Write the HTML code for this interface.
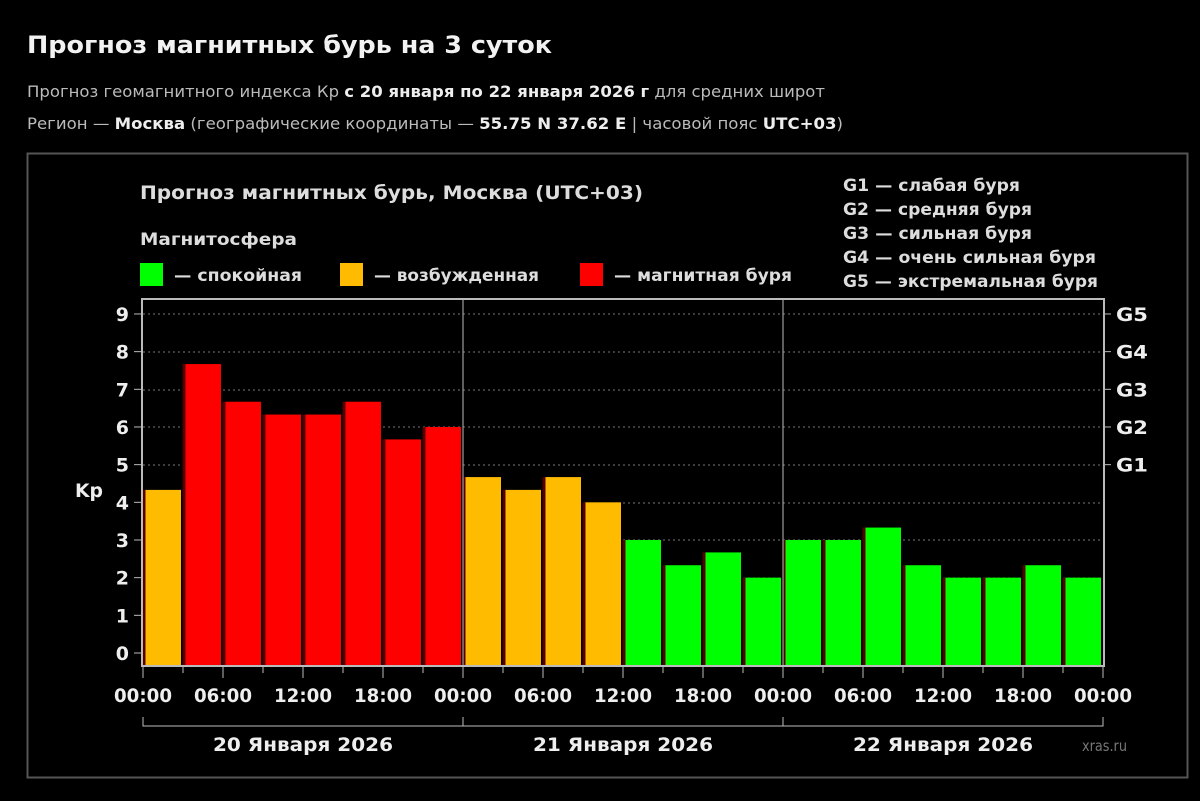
<!DOCTYPE html>
<html><head><meta charset="utf-8"><style>
body{margin:0;background:#000;width:1200px;height:797px;overflow:hidden;font-family:"DejaVu Sans",sans-serif;color:#ddd}
</style></head><body>
<svg width="1200" height="797" xmlns="http://www.w3.org/2000/svg" font-family="DejaVu Sans, Liberation Sans, sans-serif">
<rect width="1200" height="797" fill="#000"/>
<text x="27" y="53" font-size="24" font-weight="bold" fill="#f2f2f2" textLength="525" lengthAdjust="spacingAndGlyphs">Прогноз магнитных бурь на 3 суток</text>
<text x="27" y="97" font-size="16" fill="#bbb" textLength="798" lengthAdjust="spacingAndGlyphs">Прогноз геомагнитного индекса Кр <tspan font-weight="bold" fill="#eee">с 20 января по 22 января 2026 г</tspan> для средних широт</text>
<text x="27" y="129" font-size="16" fill="#bbb" textLength="816" lengthAdjust="spacingAndGlyphs">Регион — <tspan font-weight="bold" fill="#eee">Москва</tspan> (географические координаты — <tspan font-weight="bold" fill="#eee">55.75 N 37.62 E</tspan> | часовой пояс <tspan font-weight="bold" fill="#eee">UTC+03</tspan>)</text>
<rect x="27.5" y="153.5" width="1160" height="624" fill="none" stroke="#555" stroke-width="2"/>
<g font-weight="bold" fill="#ddd">
<text x="140" y="199" font-size="19" textLength="503" lengthAdjust="spacingAndGlyphs">Прогноз магнитных бурь, Москва (UTC+03)</text>
<text x="140" y="245" font-size="17" textLength="157" lengthAdjust="spacingAndGlyphs">Магнитосфера</text>
<rect x="140" y="263" width="23" height="23" fill="#0f0"/>
<text x="174" y="281" font-size="17" textLength="128" lengthAdjust="spacingAndGlyphs">— спокойная</text>
<rect x="340" y="263" width="23" height="23" fill="#fb0"/>
<text x="374" y="281" font-size="17" textLength="165" lengthAdjust="spacingAndGlyphs">— возбужденная</text>
<rect x="580" y="263" width="23" height="23" fill="#f00"/>
<text x="614" y="281" font-size="17" textLength="178" lengthAdjust="spacingAndGlyphs">— магнитная буря</text>
<g font-size="17">
<text x="843" y="191" textLength="177" lengthAdjust="spacingAndGlyphs">G1 — слабая буря</text>
<text x="843" y="215" textLength="189" lengthAdjust="spacingAndGlyphs">G2 — средняя буря</text>
<text x="843" y="239" textLength="189" lengthAdjust="spacingAndGlyphs">G3 — сильная буря</text>
<text x="843" y="263" textLength="253" lengthAdjust="spacingAndGlyphs">G4 — очень сильная буря</text>
<text x="843" y="287" textLength="255" lengthAdjust="spacingAndGlyphs">G5 — экстремальная буря</text>
</g>
</g>
<g stroke="#777" stroke-dasharray="2,3" stroke-width="1">
<line x1="143" x2="1104" y1="314" y2="314"/><line x1="143" x2="1104" y1="352" y2="352"/><line x1="143" x2="1104" y1="390" y2="390"/><line x1="143" x2="1104" y1="427" y2="427"/><line x1="143" x2="1104" y1="465" y2="465"/><line x1="143" x2="1104" y1="503" y2="503"/><line x1="143" x2="1104" y1="540" y2="540"/><line x1="143" x2="1104" y1="578" y2="578"/><line x1="143" x2="1104" y1="616" y2="616"/><line x1="143" x2="1104" y1="653" y2="653"/>
</g>
<g id="bars"></g>
<line x1="463" x2="463" y1="299" y2="666" stroke="#bbb"/>
<line x1="783" x2="783" y1="299" y2="666" stroke="#bbb"/>
<rect x="142" y="299" width="962" height="367" fill="none" stroke="#bbb" stroke-width="2"/>
<g id="ax" fill="#eee" font-weight="bold" font-size="19"></g>
<text x="1082" y="751" font-size="15" fill="#777" textLength="45" lengthAdjust="spacingAndGlyphs">xras.ru</text>
<script>
var v=[4.33,7.67,6.67,6.33,6.33,6.67,5.67,6.0,4.67,4.33,4.67,4.0,3.0,2.33,2.67,2.0,3.0,3.0,3.33,2.33,2.0,2.0,2.33,2.0];
var ns="http://www.w3.org/2000/svg",b=document.getElementById('bars'),a=document.getElementById('ax');
function el(p,t,at,tx){var e=document.createElementNS(ns,t);for(var k in at)e.setAttribute(k,at[k]);if(tx)e.textContent=tx;p.appendChild(e);return e;}
v.forEach(function(k,i){var c=k>=5?'#f00':k>=4?'#fb0':'#0f0';var y=653-37.67*k;
el(b,'rect',{x:143+i*40+2,y:y,width:36,height:666-y,fill:c});
el(b,'line',{x1:143+i*40+1,x2:143+i*40+1,y1:y,y2:666,stroke:'#500','stroke-width':3});});
for(var i=0;i<=9;i++){var y=653-37.67*i;el(a,'text',{x:129,y:y+7,'text-anchor':'end'},String(i));el(a,'line',{x1:134,x2:142,y1:y,y2:y,stroke:'#bbb'});}
['G1','G2','G3','G4','G5'].forEach(function(g,i){var y=653-37.67*(5+i);el(a,'text',{x:1116,y:y+7,textLength:32,lengthAdjust:'spacingAndGlyphs'},g);el(a,'line',{x1:1104,x2:1111,y1:y,y2:y,stroke:'#bbb'});});
el(a,'text',{x:75,y:497,textLength:28,lengthAdjust:'spacingAndGlyphs'},'Kp');
var lb=['00:00','06:00','12:00','18:00'];
for(var i=0;i<=24;i++){var x=143+i*40;el(a,'line',{x1:x,x2:x,y1:666,y2:i%2?673:678,stroke:'#bbb'});
if(i%2==0){el(a,'text',{x:x-29,y:702,textLength:58,lengthAdjust:'spacingAndGlyphs'},lb[(i/2)%4]);}}
['20','21','22'].forEach(function(d,j){var x0=143+j*320;el(a,'path',{d:'M'+x0+' 717V726H'+(x0+320)+'V717',stroke:'#bbb',fill:'none'});
el(a,'text',{x:x0+160-90,y:751,textLength:180,lengthAdjust:'spacingAndGlyphs'},d+' Января 2026');});
</script>
</svg>
</body></html>
